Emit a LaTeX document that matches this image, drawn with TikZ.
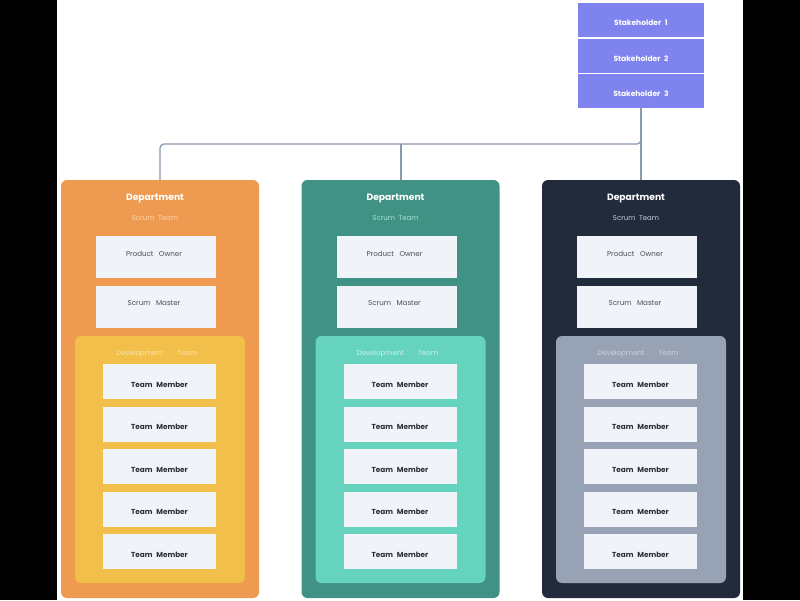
\documentclass[tikz,border=0pt]{standalone}
\usepackage{fontspec}
\setmainfont{Poppins}
\definecolor{stake}{HTML}{7F83EE}
\definecolor{conn}{HTML}{8A99AC}
\definecolor{cardbg}{HTML}{F0F3F8}
\definecolor{deptA}{HTML}{EE9A50}
\definecolor{devA}{HTML}{F2BF4A}
\definecolor{scrumA}{HTML}{FDD8B0}
\definecolor{devtA}{HTML}{FBE7A6}
\definecolor{deptB}{HTML}{3F9284}
\definecolor{devB}{HTML}{65D3BE}
\definecolor{scrumB}{HTML}{A8E5D8}
\definecolor{devtB}{HTML}{CFF3EA}
\definecolor{deptC}{HTML}{222B3C}
\definecolor{devC}{HTML}{97A3B4}
\definecolor{scrumC}{HTML}{C9D0DA}
\definecolor{devtC}{HTML}{CDD4DE}
\definecolor{txt}{HTML}{2A2F3A}
\begin{document}
\begin{tikzpicture}[x=1pt,y=-1pt,
  stakebox/.style={fill=stake,minimum width=126pt,minimum height=34pt,inner sep=0pt},
  staketxt/.style={text=white,font=\fontsize{7.5}{9}\selectfont\bfseries,inner sep=0pt},
  deptbox/.style={rounded corners=6pt,minimum width=198pt,minimum height=418pt,inner sep=0pt},
  devbox/.style={rounded corners=6pt,minimum width=170pt,minimum height=247pt,inner sep=0pt},
  rolebox/.style={fill=cardbg,minimum width=120pt,minimum height=42pt,inner sep=0pt},
  memberbox/.style={fill=cardbg,minimum width=113pt,minimum height=35pt,inner sep=0pt},
  depttitle/.style={text=white,font=\fontsize{9.2}{11}\selectfont\bfseries,inner sep=0pt},
  smalltxt/.style={font=\fontsize{7}{8}\selectfont,inner sep=0pt},
  roletxt/.style={text=txt!85,font=\fontsize{7.1}{8}\selectfont,inner sep=0pt},
  membertxt/.style={text=txt,font=\fontsize{7.3}{9}\selectfont\bfseries,inner sep=0pt},
  link/.style={draw=conn,line width=1.3pt,rounded corners=4pt}]
\useasboundingbox (0,0) rectangle (800,600);
\fill[white] (0,0) rectangle (800,600);
\fill[black] (0,0) rectangle (57,600);
\fill[black] (743,0) rectangle (800,600);

% stakeholders
\node[stakebox] (s1) at (641,20) {};
\node[stakebox] (s2) at (641,55.5) {};
\node[stakebox] (s3) at (641,91) {};
\node[staketxt] (s1t) at (641,23) {Stakeholder\enspace 1};
\node[staketxt] (s2t) at (641,58.5) {Stakeholder\enspace 2};
\node[staketxt] (s3t) at (641,94) {Stakeholder\enspace 3};

\foreach \i/\cx/\dc/\vc/\sc/\tc in {1/160/deptA/devA/scrumA/devtA, 2/400.5/deptB/devB/scrumB/devtB, 3/641/deptC/devC/scrumC/devtC}{
  \node[deptbox,fill=\dc] (dept\i) at (\cx,389) {};
  \node[depttitle] (title\i) at (\cx-5,198.5) {Department};
  \node[smalltxt,text=\sc] (scrum\i) at (\cx-5,218.5) {Scrum\enspace Team};
  \node[rolebox] (po\i) at (\cx-4,257) {};
  \node[roletxt] (pot\i) at (\cx-6,253.5) {Product\enspace\ Owner};
  \node[rolebox] (sm\i) at (\cx-4,307) {};
  \node[roletxt] (smt\i) at (\cx-6,303) {Scrum\enspace\ Master};
  \node[devbox,fill=\vc] (dev\i) at (\cx,459.5) {};
  \node[smalltxt,text=\tc] (devt\i) at (\cx-3,353.5) {Development\qquad Team};
  \foreach \j/\yy in {1/381.5,2/424,3/466.5,4/509,5/551.5}{
    \node[memberbox] (tm\i-\j) at (\cx-0.5,\yy) {};
    \node[membertxt] at ([yshift=-3pt]tm\i-\j.center) {Team\enspace Member};
  }
}

% connectors
\coordinate (j2) at (401,144);
\draw[link] (s3.south) -- (dept3.north);
\draw[link] (s3.south) |- (j2) -| (dept1.north);
\draw[link] (j2) -- (dept2.north -| j2);
\end{tikzpicture}
\end{document}
